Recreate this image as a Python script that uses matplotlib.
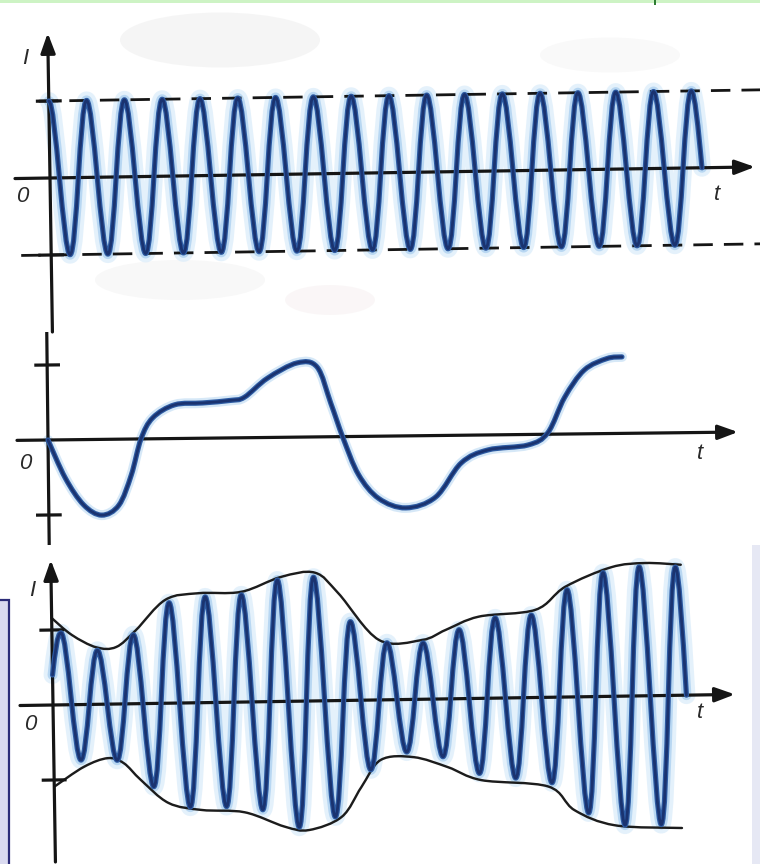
import numpy as np
import matplotlib
matplotlib.use("Agg")
import matplotlib.pyplot as plt
from matplotlib.path import Path
from matplotlib.patches import PathPatch, Rectangle, Ellipse
from matplotlib.transforms import Affine2D

plt.rcParams['lines.scale_dashes'] = False

# ---------------- data (t in carrier periods, I in tick units) ----------------
# Panel 1: unmodulated high-frequency carrier
carrier_crest = 1.0
carrier_trough = -1.0
carrier_crest_count = 18
carrier_end = 17.25          # wave ends a quarter period after the last crest

# Panel 2: low-frequency (audio) signal, key points
signal_t = [0, 0.45, 0.93, 1.41, 1.87, 2.21, 2.48, 2.8, 3.39, 4.13, 4.88, 5.25,
            5.87, 6.67, 7.2, 7.55, 7.87, 8.27, 8.8, 9.52, 10.32, 11.01, 11.73,
            12.8, 13.33, 13.79, 14.32, 14.93, 15.33]
signal_i = [0, -0.51, -0.87, -1.01, -0.88, -0.48, 0, 0.28, 0.45, 0.47, 0.5, 0.54,
            0.79, 0.99, 0.93, 0.45, -0.02, -0.51, -0.83, -0.96, -0.82, -0.37, -0.2,
            -0.14, 0.02, 0.49, 0.85, 1.0, 1.02]

# Panel 3: amplitude-modulated current, crest / trough heights
am_start_value = 0.40
am_first_crest_t = 0.25
am_crests = [0.96, 0.72, 0.92, 1.34, 1.41, 1.43, 1.62, 1.65, 1.05, 0.76, 0.75,
             0.92, 1.07, 1.10, 1.43, 1.65, 1.72, 1.71]
am_troughs = [-0.74, -0.75, -1.11, -1.39, -1.39, -1.44, -1.68, -1.55, -0.93,
              -0.70, -0.77, -1.0, -1.07, -1.14, -1.55, -1.72, -1.72]
# envelope curves
env_upper_t = [0, 0.55, 1.22, 1.77, 2.32, 3.15, 4.06, 5.25, 6.35, 7.29, 7.93,
               9.03, 10.22, 10.88, 11.8, 13.37, 14.2, 15.47, 16.41, 17.4]
env_upper_i = [1.16, 0.93, 0.76, 0.76, 0.98, 1.38, 1.46, 1.47, 1.66, 1.71, 1.43,
               0.8, 0.79, 0.92, 1.09, 1.17, 1.47, 1.72, 1.77, 1.74]
env_lower_t = [0, 0.83, 1.49, 1.93, 2.4, 3.15, 4.06, 5.25, 6.35, 7.02, 7.93, 8.48,
               9.03, 9.94, 10.88, 11.8, 13.65, 14.36, 15.47, 17.32]
env_lower_i = [-1.09, -0.83, -0.72, -0.79, -1.02, -1.33, -1.43, -1.47, -1.67,
               -1.72, -1.55, -1.16, -0.8, -0.77, -0.91, -1.09, -1.19, -1.51,
               -1.72, -1.77]

tick_values = [1, -1]

# ---------------- helpers ----------------
W, H = 760, 864
fig = plt.figure(figsize=(W / 100, H / 100), dpi=100)
fig.patch.set_facecolor('white')

PT = 0.72  # points per pixel


def wave_path(ext_t, ext_v, start=None, end=None):
    c = 0.3634
    verts, codes = [], []
    if start is not None:
        t0, v0 = start
        t1, v1 = ext_t[0], ext_v[0]
        dt = t1 - t0
        verts += [(t0, v0), (t0 + dt / 3, v0 + (v1 - v0) * 0.55), (t1 - dt * 0.4, v1), (t1, v1)]
        codes += [Path.MOVETO, Path.CURVE4, Path.CURVE4, Path.CURVE4]
    else:
        verts.append((ext_t[0], ext_v[0]))
        codes.append(Path.MOVETO)
    for i in range(len(ext_t) - 1):
        t0, v0, t1, v1 = ext_t[i], ext_v[i], ext_t[i + 1], ext_v[i + 1]
        dt = t1 - t0
        verts += [(t0 + c * dt, v0), (t1 - c * dt, v1), (t1, v1)]
        codes += [Path.CURVE4] * 3
    if end is not None:
        t0, v0 = ext_t[-1], ext_v[-1]
        t1, v1 = end
        dt = t1 - t0
        verts += [(t0 + 0.35 * dt, v0), (t0 + 0.67 * dt, v1 + 0.52 * (v0 - v1)), (t1, v1)]
        codes += [Path.CURVE4] * 3
    return Path(verts, codes)


def smooth_path(ts, vs):
    P = np.column_stack([ts, vs]).astype(float)
    n = len(P)
    verts, codes = [tuple(P[0])], [Path.MOVETO]
    for i in range(n - 1):
        p0 = P[max(i - 1, 0)]
        p1 = P[i]
        p2 = P[i + 1]
        p3 = P[min(i + 2, n - 1)]
        c1 = p1 + (p2 - p0) / 6
        c2 = p2 - (p3 - p1) / 6
        verts += [tuple(c1), tuple(c2), tuple(p2)]
        codes += [Path.CURVE4] * 3
    return Path(verts, codes)


GLOW = [(18 * PT, '#dcedfa', 0.75), (10 * PT, '#9cc6ec', 0.6)]
MAIN = [(5.2 * PT, '#2d5ba3', 1.0), (2.8 * PT, '#1a3370', 1.0)]
AXC = '#151515'


def stroke(ax, path, tr, layers, z):
    for k, (lw, col, al) in enumerate(layers):
        ax.add_patch(PathPatch(path, fill=False, lw=lw, edgecolor=col, alpha=al,
                               transform=tr, capstyle='round', joinstyle='round',
                               clip_on=False, zorder=z + k * 0.01))


def make_panel(ytop, ybot, ox, oy, sx, sy, angle):
    ax = fig.add_axes([0, 1 - ybot / H, 1, (ybot - ytop) / H])
    ax.set_xlim(-ox / sx, (W - ox) / sx)
    ax.set_ylim(-(ybot - oy) / sy, (oy - ytop) / sy)
    ax.axis('off')
    ax.patch.set_alpha(0)
    tr = ax.transData + Affine2D().rotate_deg_around(ox, H - oy, angle)
    return ax, tr


def px(ox, oy, sx, sy, x, y):
    return (x - ox) / sx, (oy - y) / sy


def axes_lines(ax, tr, t0, t1, i0, i1, tick_half, arrow_up=True):
    ap = dict(arrowstyle="-|>,head_length=0.6,head_width=0.22", lw=2.3, color=AXC,
              shrinkA=0, shrinkB=0, mutation_scale=20)
    ax.annotate("", xy=(t1, 0), xytext=(t0, 0), xycoords=tr, textcoords=tr,
                arrowprops=ap, zorder=6, annotation_clip=False)
    if arrow_up:
        ax.annotate("", xy=(0, i1), xytext=(0, i0), xycoords=tr, textcoords=tr,
                    arrowprops=ap, zorder=6, annotation_clip=False)
    else:
        ax.plot([0, 0], [i0, i1], color=AXC, lw=2.3, transform=tr, clip_on=False,
                zorder=6, solid_capstyle='butt')
    for v in tick_values:
        ax.plot([-tick_half, tick_half], [v, v], color=AXC, lw=2.3, transform=tr,
                clip_on=False, zorder=6)


LBL = dict(fontsize=16, style='italic', family=['Liberation Sans', 'DejaVu Sans'],
           color='#2a2a2a', ha='center', va='center')

# ---------------- background ----------------
bg = fig.add_axes([0, 0, 1, 1], zorder=-5)
bg.set_xlim(0, W)
bg.set_ylim(H, 0)
bg.axis('off')
for (cx, cy, w, h, col, al) in [(220, 40, 200, 55, '#e4e4e4', 0.35),
                                (180, 280, 170, 40, '#ebebeb', 0.35),
                                (610, 55, 140, 35, '#eeeeee', 0.35),
                                (330, 300, 90, 30, '#f2e8ea', 0.35)]:
    bg.add_patch(Ellipse((cx, cy), w, h, color=col, alpha=al, lw=0))
bg.add_patch(Rectangle((0, 0), W, 3, color='#cdf3c4', lw=0))
bg.add_patch(Rectangle((654, 0), 2, 5, color='#2e7d32', lw=0))
bg.add_patch(Rectangle((752, 545), 8, 319, color='#e6e8f4', lw=0))
bg.add_patch(Rectangle((-5, 600), 14, 270, facecolor='#dadaf0', edgecolor='#2c2c78', lw=1.6))

# ---------------- panel 1: carrier ----------------
o1 = (50, 178, 37.8, 77)
ax1, tr1 = make_panel(0, 330, *o1, 0.9)
ext_t1, ext_v1 = [], []
for k in range(carrier_crest_count):
    ext_t1.append(k)
    ext_v1.append(carrier_crest)
    if k < carrier_crest_count - 1:
        ext_t1.append(k + 0.5)
        ext_v1.append(carrier_trough)
p1 = wave_path(ext_t1, ext_v1, end=(carrier_end, 0))
stroke(ax1, p1, tr1, GLOW, 2)
stroke(ax1, p1, tr1, MAIN, 7)
for v, xs in [(carrier_crest, 40), (carrier_trough, 20)]:
    ax1.plot([(xs - 50) / 37.8, (W + 5 - 50) / 37.8], [v, v], color=AXC, lw=2.0,
             dashes=(14, 8), transform=tr1, clip_on=False, zorder=5)
axes_lines(ax1, tr1, (15 - 50) / 37.8, (755 - 50) / 37.8, -(332 - 178) / 77,
           (178 - 33) / 77, 0.3)
ax1.text(*px(*o1, 25, 58), 'I', **LBL)
ax1.text(*px(*o1, 22, 197), '0', **LBL)
ax1.text(*px(*o1, 717, 194), 't', **LBL)

# ---------------- panel 2: audio signal ----------------
o2 = (48, 440, 37.5, 75)
ax2, tr2 = make_panel(330, 545, *o2, 0.66)
p2 = smooth_path(signal_t, signal_i)
stroke(ax2, p2, tr2, [(10 * PT, '#b5d6f2', 0.55)], 2)
stroke(ax2, p2, tr2, MAIN, 7)
axes_lines(ax2, tr2, (17 - 48) / 37.5, (738 - 48) / 37.5, -(545 - 440) / 75,
           (440 - 332) / 75, 0.3, arrow_up=False)
ax2.text(*px(*o2, 25, 463), '0', **LBL)
ax2.text(*px(*o2, 700, 453), 't', **LBL)
ax2.text(*px(*o2, 23, 323), 'I', clip_on=True, **LBL)

# ---------------- panel 3: AM signal ----------------
o3 = (53, 705, 36.2, 75)
ax3, tr3 = make_panel(545, 864, *o3, 0.89)
ext_t3, ext_v3 = [], []
for k, cv in enumerate(am_crests):
    ext_t3.append(am_first_crest_t + k)
    ext_v3.append(cv)
    if k < len(am_troughs):
        ext_t3.append(am_first_crest_t + k + 0.5)
        ext_v3.append(am_troughs[k])
p3 = wave_path(ext_t3, ext_v3, start=(0, am_start_value),
               end=(ext_t3[-1] + 0.25, 0))
stroke(ax3, p3, tr3, GLOW, 2)
for et, ei in [(env_upper_t, env_upper_i), (env_lower_t, env_lower_i)]:
    ax3.add_patch(PathPatch(smooth_path(et, ei), fill=False, lw=2.4 * PT,
                            edgecolor='#1c1c1c', transform=tr3, clip_on=False,
                            zorder=5, capstyle='round'))
stroke(ax3, p3, tr3, MAIN, 7)
axes_lines(ax3, tr3, (20 - 53) / 36.2, (735 - 53) / 36.2, -(862 - 705) / 75,
           (705 - 560) / 75, 0.3)
ax3.text(*px(*o3, 32, 590), 'I', **LBL)
ax3.text(*px(*o3, 30, 725), '0', **LBL)
ax3.text(*px(*o3, 700, 713), 't', **LBL)

fig.savefig('out.png', dpi=100, facecolor='white')
